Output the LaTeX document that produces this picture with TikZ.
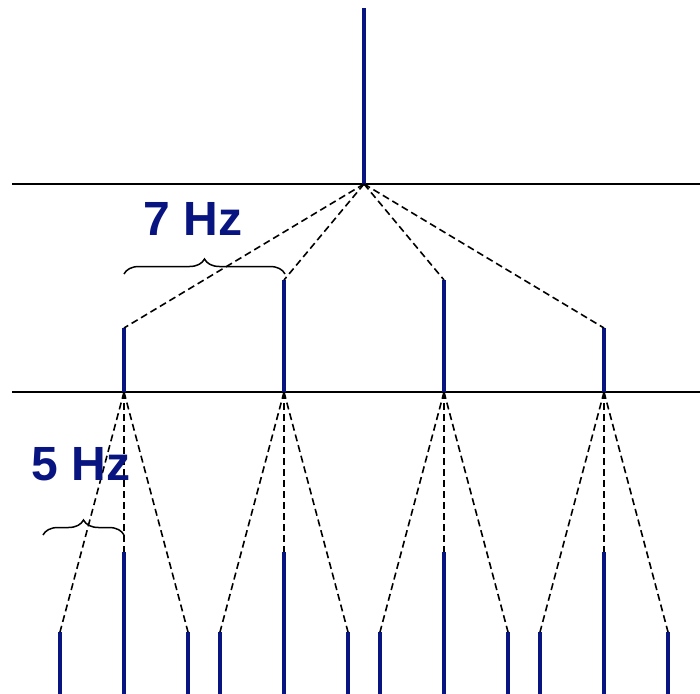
\documentclass[tikz,border=0pt]{standalone}
\usepackage{fontspec}
\setmainfont{Liberation Sans}
\usetikzlibrary{decorations.pathreplacing}
\definecolor{navy}{RGB}{8,20,128}
\begin{document}
\begin{tikzpicture}[x=1pt,y=-1pt,
  stem/.style={navy, line width=4.2pt},
  fan/.style={dash pattern=on 7pt off 4pt, line width=1.6pt},
  axisline/.style={line width=1.8pt},
  lbl/.style={text=navy, font=\fontsize{48}{48}\selectfont\bfseries, inner sep=0pt, anchor=base},
  brc/.style={decorate, decoration={brace, amplitude=15pt}, line width=1.5pt}]
\useasboundingbox (0,0) rectangle (700,693);
% axes
\coordinate (h1a) at (12,184); \coordinate (h1b) at (700,184);
\coordinate (h2a) at (12,392); \coordinate (h2b) at (700,392);
\draw[axisline] (h1a) -- (h1b);
\draw[axisline] (h2a) -- (h2b);
% root
\coordinate (root) at (364,184); \coordinate (roottop) at (364,8);
\draw[stem] (root) -- (roottop);
% middle level
\foreach \i/\x/\t in {1/124/328, 2/284/280, 3/444/280, 4/604/328} {
  \coordinate (m\i) at (\x,392);
  \coordinate (mt\i) at (\x,\t);
  \draw[stem] (m\i) -- (mt\i);
  \draw[fan] (root) -- (mt\i);
  % bottom level
  \coordinate (bl\i) at (\x-64,632); \coordinate (blb\i) at (\x-64,695);
  \coordinate (bc\i) at (\x,552);    \coordinate (bcb\i) at (\x,695);
  \coordinate (br\i) at (\x+64,632); \coordinate (brb\i) at (\x+64,695);
  \draw[stem] (bl\i) -- (blb\i);
  \draw[stem] (bc\i) -- (bcb\i);
  \draw[stem] (br\i) -- (brb\i);
  \draw[fan] (m\i) -- (bl\i);
  \draw[fan] (m\i) -- (bc\i);
  \draw[fan] (m\i) -- (br\i);
}
% braces and labels
\coordinate (b1a) at (124,274); \coordinate (b1b) at (285,274);
\draw[brc] (b1a) -- (b1b);
\node[lbl] (f7) at (193,235) {7 Hz};
\coordinate (b2a) at (43,535); \coordinate (b2b) at (124,535);
\draw[brc] (b2a) -- (b2b);
\node[lbl] (f5) at (81,480) {5 Hz};
\end{tikzpicture}
\end{document}
